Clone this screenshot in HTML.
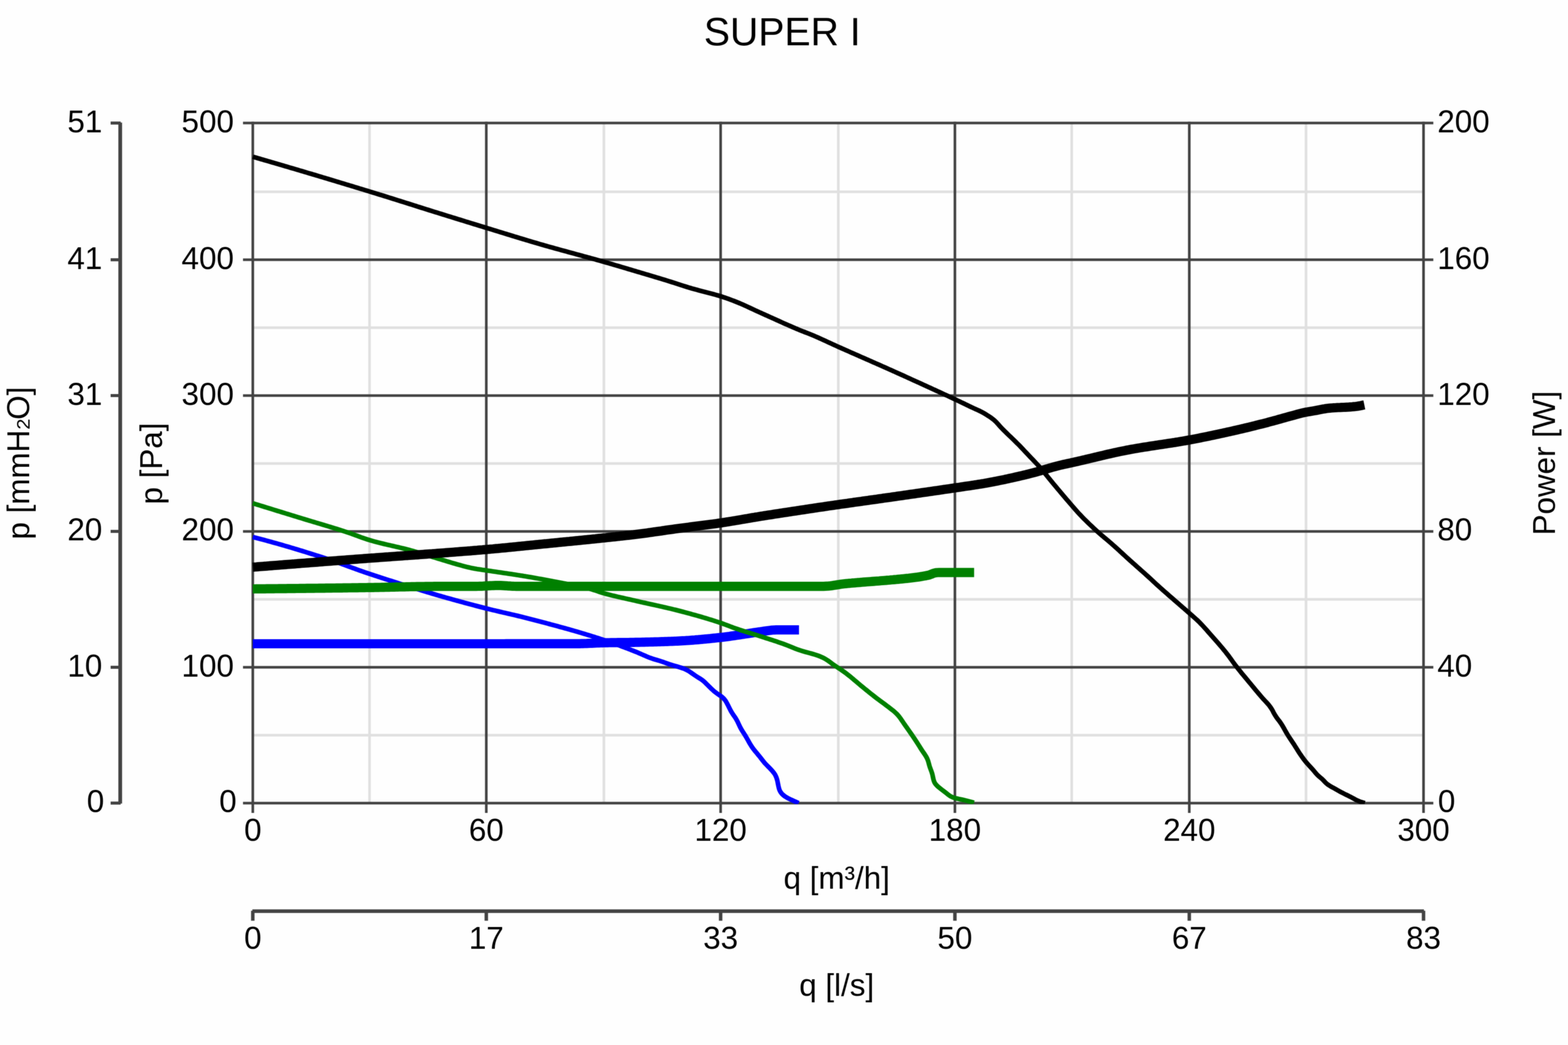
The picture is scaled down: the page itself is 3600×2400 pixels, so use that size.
<!DOCTYPE html>
<html lang="en"><head><meta charset="utf-8"><title>SUPER I</title>
<style>
html,body{margin:0;padding:0;background:#fff;}
body{width:3600px;height:2400px;overflow:hidden;}
svg{display:block;}
text{font-family:"Liberation Sans",Arial,Helvetica,sans-serif;fill:#000;}
.t{font-size:72px;}
.ttl{font-size:90px;}
.mn{stroke:#e0e0e0;stroke-width:6;fill:none;}
.mj{stroke:#434343;stroke-width:6;fill:none;}
.ax{stroke:#434343;stroke-width:9;fill:none;}
.c{fill:none;stroke-linejoin:round;stroke-linecap:butt;}
.thin{stroke-width:10.6;}
.thick{stroke-width:21.2;}
</style></head><body>
<svg width="3600" height="2400" viewBox="0 0 3600 2400">
<defs><filter id="soft" x="0" y="0" width="3600" height="2400" filterUnits="userSpaceOnUse" color-interpolation-filters="sRGB"><feConvolveMatrix order="3" kernelMatrix="1 2 1 2 4 2 1 2 1" divisor="16" edgeMode="duplicate" preserveAlpha="false"/></filter></defs>
<g filter="url(#soft)">
<rect width="3600" height="2400" fill="#fefefe"/>
<g class="mn">
<line x1="848.4" y1="282.5" x2="848.4" y2="1844.4"/>
<line x1="1386.5" y1="282.5" x2="1386.5" y2="1844.4"/>
<line x1="1924.7" y1="282.5" x2="1924.7" y2="1844.4"/>
<line x1="2460.6" y1="282.5" x2="2460.6" y2="1844.4"/>
<line x1="2998.5" y1="282.5" x2="2998.5" y2="1844.4"/>
<line x1="580.4" y1="1688.4" x2="3268.3" y2="1688.4"/>
<line x1="580.4" y1="1376.6" x2="3268.3" y2="1376.6"/>
<line x1="580.4" y1="1064.4" x2="3268.3" y2="1064.4"/>
<line x1="580.4" y1="752.5" x2="3268.3" y2="752.5"/>
<line x1="580.4" y1="440.4" x2="3268.3" y2="440.4"/>
</g>
<g class="mj">
<line x1="580.4" y1="279.5" x2="580.4" y2="1866.9"/>
<line x1="1116.5" y1="279.5" x2="1116.5" y2="1866.9"/>
<line x1="1654.5" y1="279.5" x2="1654.5" y2="1866.9"/>
<line x1="2192.4" y1="279.5" x2="2192.4" y2="1866.9"/>
<line x1="2730.5" y1="279.5" x2="2730.5" y2="1866.9"/>
<line x1="3268.3" y1="279.5" x2="3268.3" y2="1866.9"/>
<line x1="557.9" y1="1844.4" x2="3290.8" y2="1844.4"/>
<line x1="557.9" y1="1532.5" x2="3290.8" y2="1532.5"/>
<line x1="557.9" y1="1220.4" x2="3290.8" y2="1220.4"/>
<line x1="557.9" y1="908.5" x2="3290.8" y2="908.5"/>
<line x1="557.9" y1="596.6" x2="3290.8" y2="596.6"/>
<line x1="557.9" y1="282.6" x2="3290.8" y2="282.6"/>
</g>
<g class="ax">
<line x1="276.0" y1="281.6" x2="276.0" y2="1845.4" stroke-width="8.6"/>
<line x1="254.0" y1="1844.4" x2="277.0" y2="1844.4" stroke-width="7"/>
<line x1="254.0" y1="1532.5" x2="277.0" y2="1532.5" stroke-width="7"/>
<line x1="254.0" y1="1220.4" x2="277.0" y2="1220.4" stroke-width="7"/>
<line x1="254.0" y1="908.5" x2="277.0" y2="908.5" stroke-width="7"/>
<line x1="254.0" y1="596.6" x2="277.0" y2="596.6" stroke-width="7"/>
<line x1="254.0" y1="282.6" x2="277.0" y2="282.6" stroke-width="7"/>
<line x1="579.4" y1="2092.6" x2="3269.3" y2="2092.6" stroke-width="8.4"/>
<line x1="580.4" y1="2091.6" x2="580.4" y2="2114.6" stroke-width="8"/>
<line x1="1116.5" y1="2091.6" x2="1116.5" y2="2114.6" stroke-width="8"/>
<line x1="1654.5" y1="2091.6" x2="1654.5" y2="2114.6" stroke-width="8"/>
<line x1="2192.4" y1="2091.6" x2="2192.4" y2="2114.6" stroke-width="8"/>
<line x1="2730.5" y1="2091.6" x2="2730.5" y2="2114.6" stroke-width="8"/>
<line x1="3268.3" y1="2091.6" x2="3268.3" y2="2114.6" stroke-width="8"/>
</g>
<clipPath id="cp"><rect x="574.4" y="282.5" width="2693.9" height="1564.0"/></clipPath>
<g clip-path="url(#cp)">
<path class="c thin" stroke="#0000ff" d="M580.4,1233.3 L584.3,1234.3 L588.2,1235.3 L592.0,1236.3 L595.9,1237.3 L599.8,1238.4 L603.7,1239.4 L607.5,1240.4 L611.4,1241.5 L615.3,1242.6 L619.1,1243.6 L623.0,1244.7 L626.9,1245.8 L630.7,1246.8 L634.6,1247.9 L638.4,1249.0 L642.3,1250.1 L646.1,1251.2 L650.0,1252.3 L653.8,1253.5 L657.7,1254.6 L661.5,1255.7 L665.4,1256.8 L669.2,1258.0 L673.1,1259.1 L676.9,1260.3 L680.7,1261.4 L684.6,1262.6 L688.4,1263.8 L692.3,1264.9 L696.1,1266.1 L699.9,1267.3 L703.7,1268.5 L707.6,1269.7 L711.4,1270.9 L715.2,1272.1 L719.1,1273.3 L722.9,1274.5 L726.7,1275.7 L730.5,1276.9 L734.3,1278.1 L738.2,1279.3 L742.0,1280.6 L745.8,1281.8 L749.6,1283.0 L753.4,1284.3 L757.2,1285.6 L761.0,1286.9 L764.8,1288.2 L768.6,1289.5 L772.3,1290.8 L776.1,1292.2 L779.9,1293.5 L783.7,1294.9 L787.4,1296.3 L791.2,1297.6 L795.0,1299.0 L798.7,1300.4 L802.5,1301.7 L806.3,1303.1 L810.0,1304.5 L813.8,1305.8 L817.6,1307.2 L821.4,1308.6 L825.1,1309.9 L828.9,1311.2 L832.7,1312.6 L836.5,1313.9 L840.3,1315.2 L844.1,1316.5 L847.9,1317.8 L851.7,1319.0 L855.5,1320.3 L859.3,1321.6 L863.1,1322.8 L866.9,1324.1 L870.7,1325.3 L874.5,1326.6 L878.3,1327.8 L882.1,1329.0 L885.9,1330.3 L889.8,1331.5 L893.6,1332.7 L897.4,1333.9 L901.2,1335.1 L905.0,1336.3 L908.9,1337.6 L912.7,1338.8 L916.5,1340.0 L920.3,1341.2 L924.2,1342.4 L928.0,1343.6 L931.8,1344.7 L935.6,1345.9 L939.5,1347.1 L943.3,1348.3 L947.1,1349.5 L951.0,1350.7 L954.8,1351.9 L958.6,1353.1 L962.4,1354.2 L966.3,1355.4 L970.1,1356.6 L973.9,1357.8 L977.8,1358.9 L981.6,1360.1 L985.5,1361.3 L989.3,1362.4 L993.1,1363.6 L997.0,1364.7 L1000.8,1365.8 L1004.7,1367.0 L1008.5,1368.1 L1012.4,1369.2 L1016.2,1370.3 L1020.1,1371.4 L1023.9,1372.5 L1027.8,1373.6 L1031.7,1374.7 L1035.5,1375.7 L1039.4,1376.8 L1043.2,1377.9 L1047.1,1379.0 L1051.0,1380.0 L1054.8,1381.1 L1058.7,1382.2 L1062.6,1383.2 L1066.4,1384.3 L1070.3,1385.3 L1074.2,1386.3 L1078.0,1387.4 L1081.9,1388.4 L1085.8,1389.4 L1089.7,1390.5 L1093.6,1391.5 L1097.4,1392.5 L1101.3,1393.5 L1105.2,1394.5 L1109.1,1395.5 L1113.0,1396.5 L1116.8,1397.5 L1120.7,1398.4 L1124.6,1399.4 L1128.5,1400.3 L1132.4,1401.3 L1136.3,1402.2 L1140.2,1403.1 L1144.1,1404.0 L1148.0,1405.0 L1151.9,1405.9 L1155.8,1406.8 L1159.7,1407.7 L1163.7,1408.6 L1167.6,1409.5 L1171.5,1410.4 L1175.4,1411.3 L1179.3,1412.2 L1183.2,1413.1 L1187.1,1414.0 L1191.0,1415.0 L1194.9,1415.9 L1198.8,1416.9 L1202.6,1417.8 L1206.5,1418.8 L1210.4,1419.8 L1214.3,1420.8 L1218.2,1421.8 L1222.1,1422.8 L1226.0,1423.8 L1229.8,1424.8 L1233.7,1425.8 L1237.6,1426.8 L1241.5,1427.8 L1245.3,1428.9 L1249.2,1429.9 L1253.1,1430.9 L1257.0,1432.0 L1260.8,1433.0 L1264.7,1434.1 L1268.6,1435.1 L1272.4,1436.1 L1276.3,1437.2 L1280.2,1438.2 L1284.0,1439.3 L1287.9,1440.4 L1291.8,1441.4 L1295.6,1442.5 L1299.5,1443.5 L1303.4,1444.6 L1307.2,1445.7 L1311.1,1446.8 L1314.9,1447.9 L1318.8,1449.0 L1322.6,1450.1 L1326.5,1451.2 L1330.3,1452.4 L1334.2,1453.5 L1338.0,1454.7 L1341.9,1455.8 L1345.7,1457.0 L1349.5,1458.2 L1353.4,1459.3 L1357.2,1460.5 L1361.0,1461.7 L1364.8,1462.9 L1368.7,1464.2 L1372.5,1465.4 L1376.3,1466.6 L1380.1,1467.9 L1383.9,1469.1 L1387.7,1470.4 L1391.5,1471.7 L1395.3,1473.0 L1399.1,1474.3 L1402.9,1475.6 L1406.6,1477.0 L1410.4,1478.3 L1414.2,1479.7 L1418.0,1481.0 L1421.7,1482.4 L1425.5,1483.8 L1429.2,1485.2 L1433.0,1486.6 L1436.7,1488.0 L1440.5,1489.4 L1444.2,1490.9 L1448.0,1492.3 L1451.7,1493.8 L1455.4,1495.2 L1459.2,1496.7 L1462.9,1498.2 L1466.6,1499.8 L1470.3,1501.4 L1473.9,1503.0 L1477.6,1504.6 L1481.3,1506.2 L1485.0,1507.8 L1488.7,1509.3 L1492.4,1510.8 L1496.1,1512.1 L1499.9,1513.4 L1503.8,1514.6 L1507.6,1515.7 L1511.5,1516.8 L1515.3,1518.0 L1519.1,1519.2 L1522.9,1520.5 L1526.7,1521.9 L1530.4,1523.3 L1534.2,1524.6 L1538.0,1525.9 L1541.8,1527.1 L1545.7,1528.3 L1549.5,1529.4 L1553.4,1530.4 L1557.2,1531.5 L1561.1,1532.7 L1564.9,1533.9 L1568.7,1535.2 L1572.4,1536.7 L1576.0,1538.4 L1579.5,1540.3 L1582.9,1542.3 L1586.3,1544.6 L1589.5,1546.9 L1592.8,1549.2 L1596.1,1551.5 L1599.4,1553.7 L1602.8,1555.9 L1606.2,1557.9 L1609.6,1560.0 L1612.9,1562.4 L1616.0,1564.9 L1618.9,1567.6 L1621.7,1570.4 L1624.6,1573.2 L1627.4,1576.1 L1630.3,1578.9 L1633.1,1581.7 L1636.1,1584.4 L1639.0,1587.1 L1642.1,1589.6 L1645.3,1592.0 L1648.6,1594.3 L1651.9,1596.6 L1655.2,1598.8 L1658.4,1601.3 L1661.3,1604.0 L1663.9,1607.0 L1666.2,1610.2 L1668.2,1613.6 L1670.1,1617.2 L1671.9,1620.7 L1673.7,1624.3 L1675.5,1627.9 L1677.3,1631.5 L1679.3,1635.0 L1681.4,1638.4 L1683.6,1641.7 L1685.9,1645.0 L1688.2,1648.3 L1690.3,1651.7 L1692.2,1655.2 L1694.0,1658.7 L1695.7,1662.4 L1697.4,1666.0 L1699.1,1669.6 L1701.0,1673.1 L1703.0,1676.6 L1705.1,1680.0 L1707.3,1683.4 L1709.4,1686.8 L1711.6,1690.2 L1713.6,1693.6 L1715.6,1697.1 L1717.6,1700.6 L1719.5,1704.1 L1721.5,1707.6 L1723.6,1711.0 L1725.7,1714.4 L1728.0,1717.7 L1730.4,1720.9 L1732.8,1724.0 L1735.4,1727.1 L1738.0,1730.2 L1740.5,1733.3 L1743.1,1736.4 L1745.6,1739.5 L1748.0,1742.7 L1750.5,1745.8 L1753.0,1749.0 L1755.5,1752.1 L1758.2,1755.0 L1761.0,1757.9 L1763.8,1760.8 L1766.6,1763.6 L1769.4,1766.5 L1772.1,1769.4 L1774.7,1772.5 L1777.2,1775.6 L1779.4,1778.9 L1781.2,1782.5 L1782.7,1786.1 L1783.9,1789.9 L1784.9,1793.8 L1785.7,1797.7 L1786.5,1801.7 L1787.3,1805.6 L1788.2,1809.5 L1789.3,1813.3 L1790.9,1816.9 L1792.9,1820.2 L1795.4,1823.3 L1798.3,1826.0 L1801.4,1828.5 L1804.7,1830.7 L1808.2,1832.7 L1811.8,1834.5 L1815.4,1836.2 L1819.0,1837.9 L1822.6,1839.6 L1826.3,1841.2 L1830.0,1842.8 L1833.7,1844.3 L1833.7,1844.3"/>
<path class="c thick" stroke="#0000ff" d="M580.4,1478.5 L584.4,1478.5 L588.4,1478.5 L592.4,1478.5 L596.4,1478.5 L600.5,1478.5 L604.5,1478.5 L608.5,1478.5 L612.5,1478.5 L616.5,1478.5 L620.5,1478.5 L624.5,1478.5 L628.5,1478.5 L632.6,1478.5 L636.6,1478.5 L640.6,1478.5 L644.6,1478.5 L648.6,1478.5 L652.6,1478.5 L656.6,1478.5 L660.6,1478.5 L664.6,1478.5 L668.7,1478.5 L672.7,1478.5 L676.7,1478.5 L680.7,1478.5 L684.7,1478.5 L688.7,1478.5 L692.7,1478.5 L696.7,1478.5 L700.8,1478.5 L704.8,1478.5 L708.8,1478.5 L712.8,1478.5 L716.8,1478.5 L720.8,1478.5 L724.8,1478.5 L728.8,1478.5 L732.8,1478.5 L736.9,1478.5 L740.9,1478.5 L744.9,1478.5 L748.9,1478.5 L752.9,1478.5 L756.9,1478.5 L760.9,1478.5 L764.9,1478.5 L769.0,1478.5 L773.0,1478.5 L777.0,1478.5 L781.0,1478.5 L785.0,1478.5 L789.0,1478.5 L793.0,1478.5 L797.0,1478.5 L801.0,1478.5 L805.1,1478.5 L809.1,1478.5 L813.1,1478.5 L817.1,1478.5 L821.1,1478.5 L825.1,1478.5 L829.1,1478.5 L833.1,1478.5 L837.2,1478.5 L841.2,1478.5 L845.2,1478.5 L849.2,1478.5 L853.2,1478.5 L857.2,1478.5 L861.2,1478.5 L865.2,1478.5 L869.3,1478.5 L873.3,1478.5 L877.3,1478.5 L881.3,1478.5 L885.3,1478.5 L889.3,1478.5 L893.3,1478.5 L897.3,1478.5 L901.3,1478.5 L905.4,1478.5 L909.4,1478.5 L913.4,1478.5 L917.4,1478.5 L921.4,1478.5 L925.4,1478.5 L929.4,1478.5 L933.4,1478.5 L937.5,1478.5 L941.5,1478.5 L945.5,1478.5 L949.5,1478.5 L953.5,1478.5 L957.5,1478.5 L961.5,1478.5 L965.5,1478.5 L969.5,1478.5 L973.6,1478.5 L977.6,1478.5 L981.6,1478.5 L985.6,1478.5 L989.6,1478.5 L993.6,1478.5 L997.6,1478.5 L1001.6,1478.5 L1005.7,1478.5 L1009.7,1478.5 L1013.7,1478.5 L1017.7,1478.5 L1021.7,1478.5 L1025.7,1478.5 L1029.7,1478.5 L1033.7,1478.5 L1037.7,1478.5 L1041.8,1478.5 L1045.8,1478.5 L1049.8,1478.5 L1053.8,1478.5 L1057.8,1478.5 L1061.8,1478.5 L1065.8,1478.5 L1069.8,1478.5 L1073.9,1478.5 L1077.9,1478.5 L1081.9,1478.5 L1085.9,1478.5 L1089.9,1478.5 L1093.9,1478.5 L1097.9,1478.5 L1101.9,1478.5 L1105.9,1478.5 L1110.0,1478.5 L1114.0,1478.5 L1118.0,1478.5 L1122.0,1478.5 L1126.0,1478.5 L1130.0,1478.5 L1134.0,1478.5 L1138.0,1478.5 L1142.1,1478.5 L1146.1,1478.5 L1150.1,1478.5 L1154.1,1478.5 L1158.1,1478.5 L1162.1,1478.4 L1166.1,1478.4 L1170.1,1478.4 L1174.1,1478.4 L1178.2,1478.4 L1182.2,1478.4 L1186.2,1478.4 L1190.2,1478.4 L1194.2,1478.4 L1198.2,1478.4 L1202.2,1478.4 L1206.2,1478.4 L1210.3,1478.4 L1214.3,1478.4 L1218.3,1478.4 L1222.3,1478.4 L1226.3,1478.4 L1230.3,1478.4 L1234.3,1478.4 L1238.3,1478.4 L1242.3,1478.4 L1246.4,1478.4 L1250.4,1478.4 L1254.4,1478.4 L1258.4,1478.4 L1262.4,1478.4 L1266.4,1478.4 L1270.4,1478.4 L1274.4,1478.4 L1278.5,1478.4 L1282.5,1478.4 L1286.5,1478.4 L1290.5,1478.4 L1294.5,1478.4 L1298.5,1478.4 L1302.5,1478.4 L1306.5,1478.4 L1310.6,1478.4 L1314.6,1478.4 L1318.6,1478.4 L1322.6,1478.4 L1326.6,1478.4 L1330.6,1478.3 L1334.6,1478.2 L1338.6,1478.1 L1342.6,1478.0 L1346.6,1477.9 L1350.7,1477.7 L1354.7,1477.5 L1358.7,1477.3 L1362.7,1477.1 L1366.7,1476.9 L1370.7,1476.7 L1374.7,1476.6 L1378.7,1476.4 L1382.7,1476.3 L1386.7,1476.2 L1390.7,1476.1 L1394.8,1476.1 L1398.8,1476.0 L1402.8,1475.9 L1406.8,1475.9 L1410.8,1475.8 L1414.8,1475.8 L1418.8,1475.7 L1422.8,1475.7 L1426.8,1475.6 L1430.9,1475.6 L1434.9,1475.6 L1438.9,1475.5 L1442.9,1475.5 L1446.9,1475.4 L1450.9,1475.3 L1454.9,1475.3 L1458.9,1475.2 L1462.9,1475.1 L1467.0,1475.1 L1471.0,1475.0 L1475.0,1474.9 L1479.0,1474.8 L1483.0,1474.7 L1487.0,1474.6 L1491.0,1474.5 L1495.0,1474.4 L1499.0,1474.3 L1503.1,1474.2 L1507.1,1474.1 L1511.1,1474.0 L1515.1,1473.8 L1519.1,1473.7 L1523.1,1473.6 L1527.1,1473.4 L1531.1,1473.3 L1535.1,1473.1 L1539.1,1473.0 L1543.1,1472.8 L1547.2,1472.7 L1551.2,1472.5 L1555.2,1472.3 L1559.2,1472.1 L1563.2,1471.9 L1567.2,1471.7 L1571.2,1471.5 L1575.2,1471.2 L1579.2,1471.0 L1583.2,1470.7 L1587.2,1470.4 L1591.2,1470.1 L1595.2,1469.8 L1599.2,1469.4 L1603.2,1469.1 L1607.2,1468.7 L1611.2,1468.4 L1615.2,1468.0 L1619.2,1467.6 L1623.2,1467.2 L1627.2,1466.9 L1631.2,1466.5 L1635.2,1466.0 L1639.1,1465.6 L1643.1,1465.2 L1647.1,1464.8 L1651.1,1464.4 L1655.1,1463.9 L1659.1,1463.5 L1663.1,1463.0 L1667.0,1462.5 L1671.0,1461.9 L1675.0,1461.4 L1679.0,1460.8 L1682.9,1460.3 L1686.9,1459.7 L1690.9,1459.1 L1694.8,1458.5 L1698.8,1457.9 L1702.8,1457.3 L1706.7,1456.7 L1710.7,1456.1 L1714.7,1455.5 L1718.6,1454.9 L1722.6,1454.3 L1726.6,1453.7 L1730.5,1453.1 L1734.5,1452.5 L1738.5,1451.9 L1742.4,1451.3 L1746.4,1450.8 L1750.4,1450.2 L1754.4,1449.6 L1758.3,1449.0 L1762.3,1448.4 L1766.3,1447.9 L1770.2,1447.4 L1774.2,1447.0 L1778.2,1446.8 L1782.2,1446.7 L1786.3,1446.6 L1790.3,1446.6 L1794.3,1446.6 L1798.3,1446.6 L1802.3,1446.6 L1806.3,1446.6 L1810.3,1446.6 L1814.3,1446.6 L1818.4,1446.6 L1822.4,1446.6 L1826.4,1446.6 L1830.4,1446.6 L1834.4,1446.6 L1834.4,1446.6"/>
<path class="c thin" stroke="#008000" d="M580.4,1155.8 L584.2,1157.0 L588.1,1158.2 L591.9,1159.4 L595.7,1160.5 L599.5,1161.7 L603.4,1162.9 L607.2,1164.1 L611.0,1165.3 L614.9,1166.5 L618.7,1167.6 L622.5,1168.8 L626.3,1170.0 L630.2,1171.2 L634.0,1172.4 L637.8,1173.6 L641.7,1174.7 L645.5,1175.9 L649.3,1177.1 L653.2,1178.3 L657.0,1179.5 L660.8,1180.6 L664.6,1181.8 L668.5,1183.0 L672.3,1184.2 L676.1,1185.3 L680.0,1186.5 L683.8,1187.7 L687.6,1188.9 L691.5,1190.0 L695.3,1191.2 L699.1,1192.4 L703.0,1193.6 L706.8,1194.7 L710.6,1195.9 L714.5,1197.0 L718.3,1198.2 L722.2,1199.3 L726.0,1200.5 L729.8,1201.6 L733.7,1202.8 L737.5,1203.9 L741.4,1205.1 L745.2,1206.2 L749.0,1207.4 L752.9,1208.5 L756.7,1209.7 L760.5,1210.8 L764.4,1212.0 L768.2,1213.2 L772.0,1214.4 L775.9,1215.6 L779.7,1216.8 L783.5,1218.0 L787.3,1219.2 L791.1,1220.5 L794.9,1221.7 L798.7,1223.0 L802.5,1224.3 L806.3,1225.6 L810.1,1227.0 L813.8,1228.4 L817.6,1229.8 L821.4,1231.1 L825.1,1232.5 L828.9,1233.9 L832.7,1235.2 L836.4,1236.5 L840.2,1237.8 L844.1,1239.1 L847.9,1240.2 L851.7,1241.4 L855.6,1242.5 L859.4,1243.6 L863.3,1244.6 L867.2,1245.6 L871.1,1246.6 L875.0,1247.6 L878.8,1248.5 L882.7,1249.5 L886.6,1250.4 L890.5,1251.3 L894.5,1252.2 L898.4,1253.1 L902.3,1254.0 L906.2,1254.9 L910.1,1255.8 L914.0,1256.7 L917.9,1257.7 L921.8,1258.6 L925.7,1259.5 L929.6,1260.5 L933.4,1261.5 L937.3,1262.5 L941.2,1263.5 L945.0,1264.6 L948.9,1265.7 L952.8,1266.8 L956.6,1267.9 L960.5,1269.0 L964.3,1270.2 L968.1,1271.3 L972.0,1272.5 L975.8,1273.7 L979.6,1274.9 L983.5,1276.0 L987.3,1277.2 L991.1,1278.4 L994.9,1279.6 L998.8,1280.8 L1002.6,1281.9 L1006.4,1283.1 L1010.3,1284.3 L1014.1,1285.5 L1017.9,1286.6 L1021.8,1287.8 L1025.6,1289.0 L1029.4,1290.1 L1033.3,1291.3 L1037.1,1292.5 L1041.0,1293.6 L1044.8,1294.7 L1048.7,1295.8 L1052.5,1296.9 L1056.4,1297.9 L1060.2,1299.0 L1064.1,1300.1 L1068.0,1301.1 L1071.9,1302.1 L1075.8,1303.0 L1079.7,1303.9 L1083.6,1304.8 L1087.5,1305.5 L1091.5,1306.2 L1095.4,1306.9 L1099.4,1307.5 L1103.3,1308.1 L1107.3,1308.7 L1111.3,1309.2 L1115.2,1309.8 L1119.2,1310.4 L1123.2,1311.0 L1127.1,1311.6 L1131.1,1312.2 L1135.1,1312.8 L1139.0,1313.3 L1143.0,1313.9 L1147.0,1314.5 L1150.9,1315.1 L1154.9,1315.7 L1158.8,1316.3 L1162.8,1316.8 L1166.8,1317.4 L1170.7,1318.0 L1174.7,1318.6 L1178.7,1319.2 L1182.6,1319.8 L1186.6,1320.4 L1190.5,1321.1 L1194.5,1321.7 L1198.5,1322.3 L1202.4,1323.0 L1206.4,1323.6 L1210.3,1324.3 L1214.3,1325.0 L1218.2,1325.6 L1222.2,1326.3 L1226.1,1327.0 L1230.1,1327.7 L1234.0,1328.4 L1238.0,1329.1 L1241.9,1329.8 L1245.9,1330.5 L1249.8,1331.2 L1253.7,1331.9 L1257.7,1332.7 L1261.6,1333.4 L1265.6,1334.1 L1269.5,1334.9 L1273.4,1335.6 L1277.4,1336.4 L1281.3,1337.1 L1285.3,1337.9 L1289.2,1338.6 L1293.1,1339.4 L1297.1,1340.1 L1301.0,1340.9 L1304.9,1341.7 L1308.9,1342.5 L1312.8,1343.2 L1316.7,1344.0 L1320.7,1344.8 L1324.6,1345.5 L1328.5,1346.3 L1332.4,1347.1 L1336.4,1348.0 L1340.3,1348.8 L1344.2,1349.7 L1348.1,1350.7 L1352.0,1351.7 L1355.8,1352.7 L1359.7,1353.9 L1363.5,1355.1 L1367.3,1356.3 L1371.1,1357.6 L1374.9,1358.9 L1378.7,1360.2 L1382.5,1361.4 L1386.3,1362.5 L1390.2,1363.6 L1394.1,1364.6 L1398.0,1365.6 L1401.8,1366.6 L1405.7,1367.6 L1409.6,1368.5 L1413.5,1369.4 L1417.4,1370.4 L1421.3,1371.3 L1425.2,1372.1 L1429.1,1373.0 L1433.1,1373.9 L1437.0,1374.8 L1440.9,1375.7 L1444.8,1376.5 L1448.7,1377.4 L1452.6,1378.3 L1456.5,1379.2 L1460.4,1380.1 L1464.3,1381.0 L1468.2,1381.9 L1472.1,1382.8 L1476.0,1383.7 L1480.0,1384.5 L1483.9,1385.4 L1487.8,1386.3 L1491.7,1387.1 L1495.6,1388.0 L1499.5,1388.8 L1503.4,1389.7 L1507.4,1390.6 L1511.3,1391.4 L1515.2,1392.3 L1519.1,1393.2 L1523.0,1394.1 L1526.9,1395.0 L1530.8,1395.9 L1534.7,1396.8 L1538.6,1397.7 L1542.5,1398.6 L1546.4,1399.6 L1550.3,1400.5 L1554.2,1401.5 L1558.1,1402.5 L1561.9,1403.5 L1565.8,1404.5 L1569.7,1405.5 L1573.6,1406.6 L1577.4,1407.6 L1581.3,1408.7 L1585.2,1409.7 L1589.0,1410.8 L1592.9,1411.8 L1596.8,1412.9 L1600.6,1414.0 L1604.5,1415.1 L1608.3,1416.2 L1612.2,1417.4 L1616.0,1418.5 L1619.9,1419.6 L1623.7,1420.8 L1627.5,1422.0 L1631.4,1423.1 L1635.2,1424.3 L1639.0,1425.5 L1642.8,1426.8 L1646.6,1428.0 L1650.4,1429.2 L1654.2,1430.5 L1658.0,1431.8 L1661.8,1433.2 L1665.6,1434.6 L1669.3,1436.0 L1673.1,1437.4 L1676.8,1438.9 L1680.5,1440.3 L1684.3,1441.7 L1688.1,1443.0 L1691.9,1444.3 L1695.7,1445.6 L1699.5,1446.9 L1703.3,1448.1 L1707.1,1449.3 L1710.9,1450.5 L1714.7,1451.7 L1718.6,1452.9 L1722.4,1454.0 L1726.2,1455.2 L1730.1,1456.4 L1733.9,1457.6 L1737.7,1458.8 L1741.6,1460.0 L1745.4,1461.2 L1749.2,1462.4 L1753.0,1463.6 L1756.8,1464.9 L1760.6,1466.1 L1764.4,1467.3 L1768.3,1468.6 L1772.1,1469.8 L1775.9,1471.1 L1779.7,1472.3 L1783.5,1473.6 L1787.3,1474.9 L1791.1,1476.2 L1794.9,1477.5 L1798.6,1478.8 L1802.4,1480.2 L1806.1,1481.6 L1809.9,1483.1 L1813.6,1484.6 L1817.3,1486.1 L1821.0,1487.7 L1824.7,1489.2 L1828.4,1490.6 L1832.2,1492.0 L1836.0,1493.3 L1839.8,1494.5 L1843.6,1495.7 L1847.5,1496.8 L1851.3,1497.9 L1855.2,1498.9 L1859.1,1500.0 L1862.9,1501.0 L1866.8,1502.1 L1870.6,1503.3 L1874.4,1504.5 L1878.2,1505.8 L1882.0,1507.2 L1885.7,1508.8 L1889.3,1510.4 L1892.9,1512.3 L1896.3,1514.3 L1899.7,1516.4 L1903.0,1518.7 L1906.2,1521.1 L1909.4,1523.5 L1912.6,1525.9 L1915.9,1528.2 L1919.2,1530.4 L1922.6,1532.6 L1925.9,1534.8 L1929.3,1537.0 L1932.6,1539.3 L1935.9,1541.6 L1939.1,1543.9 L1942.4,1546.3 L1945.5,1548.7 L1948.7,1551.2 L1951.8,1553.7 L1954.9,1556.3 L1958.0,1558.8 L1961.0,1561.4 L1964.1,1564.0 L1967.1,1566.6 L1970.2,1569.2 L1973.3,1571.8 L1976.3,1574.4 L1979.4,1576.9 L1982.5,1579.4 L1985.6,1582.0 L1988.7,1584.5 L1991.9,1587.0 L1995.0,1589.6 L1998.1,1592.1 L2001.2,1594.6 L2004.4,1597.0 L2007.5,1599.5 L2010.7,1602.0 L2013.9,1604.4 L2017.1,1606.8 L2020.3,1609.2 L2023.5,1611.6 L2026.8,1613.9 L2030.0,1616.3 L2033.2,1618.8 L2036.4,1621.2 L2039.6,1623.6 L2042.7,1626.0 L2045.9,1628.5 L2049.1,1630.9 L2052.2,1633.4 L2055.2,1636.1 L2058.1,1638.8 L2060.9,1641.7 L2063.5,1644.7 L2065.9,1647.9 L2068.3,1651.2 L2070.5,1654.5 L2072.8,1657.8 L2075.0,1661.1 L2077.3,1664.4 L2079.6,1667.7 L2081.9,1670.9 L2084.2,1674.2 L2086.5,1677.5 L2088.8,1680.8 L2091.1,1684.1 L2093.4,1687.4 L2095.7,1690.7 L2097.9,1694.0 L2100.1,1697.3 L2102.3,1700.7 L2104.5,1704.0 L2106.7,1707.4 L2108.8,1710.8 L2111.0,1714.2 L2113.1,1717.6 L2115.3,1721.0 L2117.4,1724.3 L2119.7,1727.6 L2122.0,1730.9 L2124.2,1734.2 L2126.3,1737.6 L2128.2,1741.1 L2129.8,1744.8 L2131.1,1748.5 L2132.2,1752.4 L2133.2,1756.3 L2134.3,1760.1 L2135.6,1763.9 L2137.0,1767.6 L2138.4,1771.4 L2139.7,1775.2 L2140.8,1779.0 L2141.6,1782.9 L2142.4,1786.8 L2143.3,1790.7 L2144.5,1794.5 L2146.1,1798.0 L2148.3,1801.2 L2151.0,1804.1 L2153.9,1806.9 L2157.0,1809.4 L2160.1,1811.9 L2163.3,1814.4 L2166.5,1816.8 L2169.7,1819.2 L2172.8,1821.7 L2175.9,1824.2 L2179.1,1826.6 L2182.4,1828.8 L2186.0,1830.6 L2189.7,1832.0 L2193.5,1833.1 L2197.4,1834.0 L2201.3,1834.9 L2205.2,1835.7 L2209.1,1836.5 L2213.0,1837.4 L2216.9,1838.4 L2220.8,1839.4 L2224.7,1840.4 L2228.6,1841.4 L2232.4,1842.4 L2236.3,1843.5 L2236.3,1843.5"/>
<path class="c thick" stroke="#008000" d="M580.4,1352.5 L584.4,1352.5 L588.4,1352.4 L592.4,1352.4 L596.4,1352.4 L600.4,1352.3 L604.4,1352.3 L608.5,1352.3 L612.5,1352.2 L616.5,1352.2 L620.5,1352.1 L624.5,1352.1 L628.5,1352.1 L632.5,1352.0 L636.5,1352.0 L640.5,1351.9 L644.5,1351.9 L648.5,1351.9 L652.5,1351.8 L656.5,1351.8 L660.6,1351.7 L664.6,1351.7 L668.6,1351.7 L672.6,1351.6 L676.6,1351.6 L680.6,1351.5 L684.6,1351.5 L688.6,1351.4 L692.6,1351.4 L696.6,1351.3 L700.6,1351.3 L704.6,1351.2 L708.6,1351.2 L712.6,1351.2 L716.7,1351.1 L720.7,1351.1 L724.7,1351.0 L728.7,1351.0 L732.7,1350.9 L736.7,1350.9 L740.7,1350.8 L744.7,1350.8 L748.7,1350.7 L752.7,1350.7 L756.7,1350.6 L760.7,1350.6 L764.7,1350.5 L768.8,1350.5 L772.8,1350.4 L776.8,1350.4 L780.8,1350.3 L784.8,1350.3 L788.8,1350.2 L792.8,1350.2 L796.8,1350.1 L800.8,1350.0 L804.8,1350.0 L808.8,1349.9 L812.8,1349.9 L816.8,1349.8 L820.8,1349.8 L824.9,1349.7 L828.9,1349.7 L832.9,1349.6 L836.9,1349.6 L840.9,1349.5 L844.9,1349.4 L848.9,1349.4 L852.9,1349.3 L856.9,1349.3 L860.9,1349.2 L864.9,1349.1 L868.9,1349.1 L872.9,1349.0 L876.9,1348.9 L881.0,1348.8 L885.0,1348.7 L889.0,1348.7 L893.0,1348.6 L897.0,1348.5 L901.0,1348.4 L905.0,1348.3 L909.0,1348.2 L913.0,1348.1 L917.0,1348.0 L921.0,1348.0 L925.0,1347.9 L929.0,1347.8 L933.0,1347.7 L937.1,1347.6 L941.1,1347.5 L945.1,1347.4 L949.1,1347.4 L953.1,1347.3 L957.1,1347.2 L961.1,1347.2 L965.1,1347.1 L969.1,1347.0 L973.1,1347.0 L977.1,1346.9 L981.1,1346.9 L985.1,1346.8 L989.1,1346.8 L993.2,1346.8 L997.2,1346.7 L1001.2,1346.7 L1005.2,1346.7 L1009.2,1346.7 L1013.2,1346.7 L1017.2,1346.7 L1021.2,1346.7 L1025.2,1346.7 L1029.2,1346.7 L1033.2,1346.7 L1037.2,1346.7 L1041.2,1346.7 L1045.3,1346.7 L1049.3,1346.7 L1053.3,1346.7 L1057.3,1346.7 L1061.3,1346.7 L1065.3,1346.7 L1069.3,1346.7 L1073.3,1346.7 L1077.3,1346.7 L1081.3,1346.7 L1085.3,1346.7 L1089.3,1346.7 L1093.3,1346.6 L1097.4,1346.5 L1101.4,1346.4 L1105.4,1346.3 L1109.4,1346.1 L1113.4,1345.8 L1117.4,1345.6 L1121.4,1345.4 L1125.4,1345.2 L1129.4,1345.0 L1133.4,1344.8 L1137.4,1344.7 L1141.4,1344.7 L1145.4,1344.7 L1149.4,1344.7 L1153.4,1344.9 L1157.4,1345.1 L1161.4,1345.3 L1165.4,1345.6 L1169.4,1345.8 L1173.4,1346.1 L1177.4,1346.3 L1181.4,1346.5 L1185.4,1346.6 L1189.4,1346.7 L1193.4,1346.7 L1197.4,1346.7 L1201.4,1346.7 L1205.5,1346.7 L1209.5,1346.7 L1213.5,1346.7 L1217.5,1346.7 L1221.5,1346.7 L1225.5,1346.7 L1229.5,1346.7 L1233.5,1346.7 L1237.5,1346.7 L1241.5,1346.7 L1245.5,1346.7 L1249.5,1346.7 L1253.5,1346.7 L1257.6,1346.7 L1261.6,1346.7 L1265.6,1346.7 L1269.6,1346.7 L1273.6,1346.7 L1277.6,1346.7 L1281.6,1346.7 L1285.6,1346.7 L1289.6,1346.7 L1293.6,1346.7 L1297.6,1346.7 L1301.6,1346.7 L1305.6,1346.7 L1309.7,1346.7 L1313.7,1346.7 L1317.7,1346.7 L1321.7,1346.7 L1325.7,1346.6 L1329.7,1346.6 L1333.7,1346.6 L1337.7,1346.6 L1341.7,1346.6 L1345.7,1346.6 L1349.7,1346.6 L1353.7,1346.6 L1357.7,1346.6 L1361.8,1346.6 L1365.8,1346.6 L1369.8,1346.6 L1373.8,1346.6 L1377.8,1346.6 L1381.8,1346.6 L1385.8,1346.6 L1389.8,1346.6 L1393.8,1346.6 L1397.8,1346.6 L1401.8,1346.6 L1405.8,1346.6 L1409.8,1346.6 L1413.9,1346.6 L1417.9,1346.6 L1421.9,1346.6 L1425.9,1346.6 L1429.9,1346.6 L1433.9,1346.6 L1437.9,1346.6 L1441.9,1346.6 L1445.9,1346.6 L1449.9,1346.6 L1453.9,1346.6 L1457.9,1346.6 L1462.0,1346.6 L1466.0,1346.6 L1470.0,1346.6 L1474.0,1346.6 L1478.0,1346.6 L1482.0,1346.6 L1486.0,1346.6 L1490.0,1346.6 L1494.0,1346.6 L1498.0,1346.6 L1502.0,1346.6 L1506.0,1346.6 L1510.0,1346.6 L1514.1,1346.6 L1518.1,1346.6 L1522.1,1346.6 L1526.1,1346.6 L1530.1,1346.6 L1534.1,1346.6 L1538.1,1346.6 L1542.1,1346.6 L1546.1,1346.6 L1550.1,1346.6 L1554.1,1346.6 L1558.1,1346.6 L1562.1,1346.6 L1566.2,1346.6 L1570.2,1346.6 L1574.2,1346.6 L1578.2,1346.6 L1582.2,1346.6 L1586.2,1346.6 L1590.2,1346.6 L1594.2,1346.6 L1598.2,1346.6 L1602.2,1346.6 L1606.2,1346.6 L1610.2,1346.6 L1614.2,1346.6 L1618.3,1346.6 L1622.3,1346.6 L1626.3,1346.6 L1630.3,1346.6 L1634.3,1346.6 L1638.3,1346.6 L1642.3,1346.6 L1646.3,1346.6 L1650.3,1346.6 L1654.3,1346.6 L1658.3,1346.6 L1662.3,1346.6 L1666.3,1346.6 L1670.4,1346.6 L1674.4,1346.6 L1678.4,1346.6 L1682.4,1346.6 L1686.4,1346.6 L1690.4,1346.6 L1694.4,1346.6 L1698.4,1346.6 L1702.4,1346.6 L1706.4,1346.6 L1710.4,1346.6 L1714.4,1346.6 L1718.4,1346.6 L1722.5,1346.6 L1726.5,1346.6 L1730.5,1346.6 L1734.5,1346.6 L1738.5,1346.6 L1742.5,1346.6 L1746.5,1346.6 L1750.5,1346.6 L1754.5,1346.6 L1758.5,1346.6 L1762.5,1346.6 L1766.5,1346.6 L1770.5,1346.6 L1774.6,1346.6 L1778.6,1346.6 L1782.6,1346.6 L1786.6,1346.6 L1790.6,1346.6 L1794.6,1346.6 L1798.6,1346.6 L1802.6,1346.6 L1806.6,1346.6 L1810.6,1346.6 L1814.6,1346.6 L1818.6,1346.6 L1822.6,1346.6 L1826.7,1346.6 L1830.7,1346.6 L1834.7,1346.6 L1838.7,1346.6 L1842.7,1346.6 L1846.7,1346.6 L1850.7,1346.6 L1854.7,1346.6 L1858.7,1346.6 L1862.7,1346.6 L1866.7,1346.6 L1870.7,1346.6 L1874.7,1346.6 L1878.8,1346.6 L1882.8,1346.6 L1886.8,1346.6 L1890.8,1346.6 L1894.8,1346.4 L1898.8,1346.2 L1902.8,1345.9 L1906.7,1345.5 L1910.7,1344.9 L1914.7,1344.3 L1918.6,1343.7 L1922.6,1343.0 L1926.5,1342.4 L1930.5,1341.8 L1934.5,1341.3 L1938.5,1340.8 L1942.4,1340.4 L1946.4,1340.0 L1950.4,1339.6 L1954.4,1339.3 L1958.4,1338.9 L1962.4,1338.6 L1966.4,1338.2 L1970.4,1337.9 L1974.4,1337.6 L1978.4,1337.2 L1982.4,1336.9 L1986.4,1336.6 L1990.4,1336.3 L1994.4,1336.0 L1998.4,1335.7 L2002.4,1335.4 L2006.3,1335.1 L2010.3,1334.8 L2014.3,1334.5 L2018.3,1334.2 L2022.3,1333.8 L2026.3,1333.5 L2030.3,1333.2 L2034.3,1332.9 L2038.3,1332.5 L2042.3,1332.2 L2046.3,1331.8 L2050.3,1331.5 L2054.3,1331.1 L2058.3,1330.8 L2062.3,1330.4 L2066.3,1330.0 L2070.2,1329.6 L2074.2,1329.2 L2078.2,1328.8 L2082.2,1328.4 L2086.2,1328.0 L2090.2,1327.5 L2094.1,1327.0 L2098.1,1326.5 L2102.1,1326.0 L2106.1,1325.5 L2110.0,1324.9 L2114.0,1324.3 L2117.9,1323.6 L2121.9,1322.9 L2125.8,1322.2 L2129.7,1321.4 L2133.6,1320.4 L2137.3,1319.1 L2141.0,1317.6 L2144.7,1316.3 L2148.5,1315.4 L2152.4,1315.0 L2156.4,1314.8 L2160.4,1314.8 L2164.4,1314.8 L2168.4,1314.8 L2172.4,1314.8 L2176.4,1314.8 L2180.4,1314.8 L2184.4,1314.8 L2188.4,1314.8 L2192.4,1314.8 L2196.4,1314.8 L2200.4,1314.8 L2204.4,1314.8 L2208.4,1314.8 L2212.5,1314.8 L2216.5,1314.8 L2220.5,1314.8 L2224.5,1314.8 L2228.5,1314.8 L2232.5,1314.8 L2236.5,1314.8 L2236.5,1314.8"/>
<path class="c thin" stroke="#000" d="M580.4,360.0 L584.2,361.1 L588.1,362.2 L591.9,363.3 L595.8,364.4 L599.6,365.6 L603.5,366.7 L607.3,367.8 L611.2,368.9 L615.0,370.0 L618.9,371.1 L622.7,372.3 L626.5,373.4 L630.4,374.5 L634.2,375.6 L638.1,376.8 L641.9,377.9 L645.8,379.0 L649.6,380.1 L653.4,381.3 L657.3,382.4 L661.1,383.5 L665.0,384.7 L668.8,385.8 L672.6,386.9 L676.5,388.0 L680.3,389.2 L684.2,390.3 L688.0,391.5 L691.8,392.6 L695.7,393.7 L699.5,394.9 L703.3,396.0 L707.2,397.2 L711.0,398.3 L714.9,399.4 L718.7,400.6 L722.5,401.7 L726.4,402.9 L730.2,404.0 L734.0,405.2 L737.9,406.3 L741.7,407.5 L745.5,408.6 L749.4,409.8 L753.2,410.9 L757.0,412.1 L760.9,413.2 L764.7,414.4 L768.5,415.5 L772.4,416.7 L776.2,417.9 L780.0,419.0 L783.9,420.2 L787.7,421.3 L791.5,422.5 L795.4,423.7 L799.2,424.8 L803.0,426.0 L806.9,427.1 L810.7,428.3 L814.5,429.5 L818.3,430.6 L822.2,431.8 L826.0,433.0 L829.8,434.1 L833.7,435.3 L837.5,436.5 L841.3,437.6 L845.2,438.8 L849.0,440.0 L852.8,441.2 L856.6,442.3 L860.5,443.5 L864.3,444.7 L868.1,445.9 L871.9,447.1 L875.8,448.2 L879.6,449.4 L883.4,450.6 L887.2,451.8 L891.0,453.0 L894.9,454.2 L898.7,455.4 L902.5,456.6 L906.3,457.8 L910.1,459.0 L914.0,460.2 L917.8,461.4 L921.6,462.6 L925.4,463.8 L929.2,465.0 L933.1,466.2 L936.9,467.4 L940.7,468.6 L944.5,469.8 L948.3,471.0 L952.1,472.2 L956.0,473.4 L959.8,474.7 L963.6,475.9 L967.4,477.1 L971.2,478.3 L975.1,479.5 L978.9,480.7 L982.7,481.9 L986.5,483.1 L990.3,484.3 L994.1,485.5 L998.0,486.7 L1001.8,487.8 L1005.6,489.0 L1009.4,490.2 L1013.3,491.4 L1017.1,492.6 L1020.9,493.8 L1024.7,495.0 L1028.6,496.2 L1032.4,497.3 L1036.2,498.5 L1040.0,499.7 L1043.9,500.9 L1047.7,502.1 L1051.5,503.3 L1055.3,504.4 L1059.1,505.6 L1063.0,506.8 L1066.8,508.0 L1070.6,509.2 L1074.5,510.4 L1078.3,511.5 L1082.1,512.7 L1085.9,513.9 L1089.8,515.1 L1093.6,516.2 L1097.4,517.4 L1101.2,518.6 L1105.1,519.8 L1108.9,520.9 L1112.7,522.1 L1116.5,523.3 L1120.4,524.5 L1124.2,525.6 L1128.0,526.8 L1131.9,528.0 L1135.7,529.2 L1139.5,530.3 L1143.3,531.5 L1147.2,532.7 L1151.0,533.9 L1154.8,535.0 L1158.6,536.2 L1162.5,537.4 L1166.3,538.6 L1170.1,539.7 L1173.9,540.9 L1177.8,542.1 L1181.6,543.3 L1185.4,544.4 L1189.3,545.6 L1193.1,546.8 L1196.9,547.9 L1200.8,549.1 L1204.6,550.2 L1208.4,551.4 L1212.3,552.5 L1216.1,553.7 L1219.9,554.8 L1223.8,556.0 L1227.6,557.1 L1231.5,558.2 L1235.3,559.3 L1239.1,560.5 L1243.0,561.6 L1246.8,562.7 L1250.7,563.8 L1254.5,564.9 L1258.4,566.0 L1262.2,567.1 L1266.1,568.1 L1269.9,569.2 L1273.8,570.3 L1277.7,571.4 L1281.5,572.4 L1285.4,573.5 L1289.2,574.6 L1293.1,575.6 L1297.0,576.7 L1300.8,577.7 L1304.7,578.8 L1308.5,579.8 L1312.4,580.9 L1316.3,581.9 L1320.1,583.0 L1324.0,584.1 L1327.9,585.1 L1331.7,586.2 L1335.6,587.2 L1339.4,588.3 L1343.3,589.3 L1347.2,590.4 L1351.0,591.5 L1354.9,592.5 L1358.7,593.6 L1362.6,594.7 L1366.5,595.7 L1370.3,596.8 L1374.2,597.9 L1378.0,599.0 L1381.9,600.1 L1385.7,601.2 L1389.6,602.3 L1393.4,603.4 L1397.3,604.5 L1401.1,605.6 L1404.9,606.7 L1408.8,607.9 L1412.6,609.0 L1416.5,610.1 L1420.3,611.2 L1424.2,612.4 L1428.0,613.5 L1431.8,614.6 L1435.7,615.8 L1439.5,616.9 L1443.3,618.1 L1447.2,619.2 L1451.0,620.3 L1454.9,621.5 L1458.7,622.6 L1462.5,623.8 L1466.4,624.9 L1470.2,626.0 L1474.0,627.2 L1477.9,628.3 L1481.7,629.5 L1485.6,630.6 L1489.4,631.7 L1493.2,632.9 L1497.1,634.0 L1500.9,635.2 L1504.7,636.3 L1508.6,637.5 L1512.4,638.6 L1516.2,639.8 L1520.1,641.0 L1523.9,642.1 L1527.7,643.3 L1531.6,644.5 L1535.4,645.7 L1539.2,646.9 L1543.0,648.1 L1546.8,649.3 L1550.6,650.5 L1554.4,651.8 L1558.2,653.0 L1562.0,654.3 L1565.9,655.5 L1569.7,656.7 L1573.5,657.9 L1577.3,659.1 L1581.1,660.3 L1585.0,661.4 L1588.8,662.6 L1592.7,663.6 L1596.5,664.7 L1600.4,665.7 L1604.3,666.8 L1608.1,667.8 L1612.0,668.8 L1615.9,669.8 L1619.8,670.8 L1623.6,671.8 L1627.5,672.8 L1631.4,673.8 L1635.3,674.8 L1639.1,675.9 L1643.0,677.0 L1646.8,678.1 L1650.7,679.2 L1654.5,680.4 L1658.3,681.6 L1662.1,682.9 L1665.9,684.1 L1669.7,685.5 L1673.4,686.8 L1677.2,688.2 L1680.9,689.6 L1684.7,691.0 L1688.4,692.5 L1692.1,694.0 L1695.8,695.5 L1699.5,697.0 L1703.2,698.6 L1706.9,700.2 L1710.5,701.9 L1714.2,703.5 L1717.8,705.2 L1721.4,706.9 L1725.1,708.6 L1728.7,710.3 L1732.3,712.0 L1735.9,713.7 L1739.6,715.3 L1743.2,717.0 L1746.9,718.6 L1750.5,720.3 L1754.2,721.9 L1757.8,723.6 L1761.5,725.2 L1765.1,726.8 L1768.8,728.5 L1772.4,730.1 L1776.1,731.8 L1779.7,733.4 L1783.4,735.1 L1787.0,736.7 L1790.7,738.4 L1794.3,740.0 L1798.0,741.7 L1801.6,743.3 L1805.3,744.9 L1809.0,746.5 L1812.6,748.1 L1816.3,749.7 L1820.0,751.3 L1823.6,752.9 L1827.3,754.5 L1831.0,756.0 L1834.7,757.6 L1838.4,759.1 L1842.1,760.6 L1845.9,762.0 L1849.6,763.5 L1853.3,764.9 L1857.1,766.4 L1860.8,767.9 L1864.5,769.4 L1868.2,770.9 L1871.8,772.5 L1875.5,774.1 L1879.2,775.7 L1882.8,777.4 L1886.5,779.0 L1890.1,780.7 L1893.8,782.3 L1897.4,784.0 L1901.0,785.7 L1904.7,787.4 L1908.3,789.0 L1911.9,790.7 L1915.6,792.4 L1919.2,794.0 L1922.9,795.7 L1926.5,797.3 L1930.2,798.9 L1933.8,800.6 L1937.5,802.2 L1941.2,803.8 L1944.8,805.4 L1948.5,807.0 L1952.2,808.7 L1955.8,810.3 L1959.5,811.9 L1963.1,813.5 L1966.8,815.1 L1970.5,816.7 L1974.1,818.4 L1977.8,820.0 L1981.5,821.6 L1985.1,823.2 L1988.8,824.8 L1992.5,826.4 L1996.1,828.0 L1999.8,829.6 L2003.4,831.3 L2007.1,832.9 L2010.8,834.5 L2014.4,836.1 L2018.1,837.7 L2021.8,839.3 L2025.4,841.0 L2029.1,842.6 L2032.7,844.2 L2036.4,845.8 L2040.0,847.5 L2043.7,849.1 L2047.4,850.7 L2051.0,852.4 L2054.7,854.0 L2058.3,855.7 L2062.0,857.3 L2065.6,858.9 L2069.3,860.6 L2072.9,862.2 L2076.6,863.9 L2080.2,865.5 L2083.9,867.2 L2087.5,868.8 L2091.1,870.5 L2094.8,872.2 L2098.4,873.8 L2102.1,875.5 L2105.7,877.1 L2109.4,878.8 L2113.0,880.4 L2116.7,882.1 L2120.3,883.8 L2123.9,885.4 L2127.6,887.1 L2131.2,888.8 L2134.9,890.4 L2138.5,892.1 L2142.1,893.8 L2145.8,895.4 L2149.4,897.1 L2153.1,898.8 L2156.7,900.4 L2160.3,902.1 L2164.0,903.8 L2167.6,905.5 L2171.2,907.1 L2174.9,908.8 L2178.5,910.5 L2182.1,912.2 L2185.8,913.9 L2189.4,915.6 L2193.0,917.3 L2196.6,919.0 L2200.3,920.7 L2203.9,922.4 L2207.5,924.2 L2211.1,925.9 L2214.7,927.6 L2218.3,929.4 L2221.9,931.1 L2225.5,932.9 L2229.1,934.6 L2232.7,936.3 L2236.4,938.0 L2240.0,939.6 L2243.7,941.3 L2247.3,942.9 L2250.9,944.6 L2254.5,946.5 L2258.0,948.4 L2261.4,950.4 L2264.8,952.5 L2268.2,954.7 L2271.6,956.8 L2274.9,959.0 L2278.1,961.4 L2281.3,963.9 L2284.2,966.5 L2287.1,969.3 L2289.8,972.3 L2292.5,975.2 L2295.1,978.2 L2297.8,981.2 L2300.6,984.1 L2303.4,987.0 L2306.2,989.8 L2309.0,992.6 L2311.9,995.4 L2314.8,998.2 L2317.7,1001.0 L2320.6,1003.7 L2323.5,1006.5 L2326.4,1009.3 L2329.2,1012.1 L2332.1,1014.9 L2334.9,1017.7 L2337.8,1020.5 L2340.6,1023.3 L2343.4,1026.2 L2346.1,1029.1 L2348.9,1032.0 L2351.6,1035.0 L2354.3,1037.9 L2357.1,1040.8 L2359.8,1043.7 L2362.6,1046.7 L2365.3,1049.5 L2368.1,1052.4 L2370.9,1055.3 L2373.6,1058.2 L2376.4,1061.1 L2379.1,1064.0 L2381.9,1067.0 L2384.5,1069.9 L2387.2,1072.9 L2389.8,1076.0 L2392.4,1079.0 L2395.0,1082.1 L2397.5,1085.2 L2400.1,1088.3 L2402.6,1091.4 L2405.1,1094.5 L2407.6,1097.6 L2410.1,1100.7 L2412.7,1103.8 L2415.2,1106.9 L2417.7,1110.0 L2420.3,1113.1 L2422.9,1116.2 L2425.4,1119.2 L2428.0,1122.3 L2430.6,1125.4 L2433.2,1128.4 L2435.7,1131.5 L2438.3,1134.5 L2440.9,1137.6 L2443.5,1140.7 L2446.1,1143.7 L2448.7,1146.8 L2451.3,1149.8 L2453.9,1152.8 L2456.5,1155.9 L2459.1,1158.9 L2461.7,1161.9 L2464.4,1165.0 L2467.0,1168.0 L2469.6,1171.0 L2472.3,1174.0 L2474.9,1177.0 L2477.6,1179.9 L2480.4,1182.8 L2483.1,1185.7 L2485.9,1188.6 L2488.7,1191.5 L2491.6,1194.3 L2494.4,1197.1 L2497.3,1199.9 L2500.2,1202.7 L2503.1,1205.5 L2506.0,1208.2 L2508.9,1210.9 L2511.8,1213.7 L2514.8,1216.4 L2517.7,1219.1 L2520.7,1221.8 L2523.7,1224.4 L2526.7,1227.1 L2529.7,1229.7 L2532.8,1232.3 L2535.8,1234.9 L2538.9,1237.4 L2542.0,1240.0 L2545.0,1242.6 L2548.1,1245.2 L2551.1,1247.8 L2554.1,1250.4 L2557.1,1253.1 L2560.1,1255.8 L2563.1,1258.4 L2566.0,1261.1 L2569.0,1263.8 L2571.9,1266.6 L2574.9,1269.3 L2577.8,1272.0 L2580.7,1274.7 L2583.7,1277.4 L2586.6,1280.1 L2589.6,1282.8 L2592.6,1285.5 L2595.6,1288.2 L2598.6,1290.8 L2601.5,1293.5 L2604.5,1296.1 L2607.5,1298.8 L2610.5,1301.4 L2613.5,1304.1 L2616.5,1306.8 L2619.5,1309.4 L2622.5,1312.1 L2625.5,1314.7 L2628.5,1317.4 L2631.4,1320.1 L2634.4,1322.8 L2637.4,1325.5 L2640.3,1328.2 L2643.3,1330.9 L2646.2,1333.6 L2649.1,1336.4 L2652.1,1339.1 L2655.0,1341.8 L2658.0,1344.5 L2660.9,1347.2 L2663.9,1349.9 L2666.9,1352.5 L2669.9,1355.2 L2672.9,1357.9 L2675.9,1360.5 L2678.9,1363.1 L2681.9,1365.8 L2684.9,1368.4 L2687.9,1371.0 L2691.0,1373.6 L2694.0,1376.3 L2697.0,1378.9 L2700.0,1381.5 L2703.1,1384.2 L2706.1,1386.8 L2709.1,1389.4 L2712.1,1392.0 L2715.1,1394.7 L2718.2,1397.3 L2721.2,1399.9 L2724.2,1402.5 L2727.2,1405.2 L2730.2,1407.8 L2733.2,1410.5 L2736.2,1413.1 L2739.2,1415.7 L2742.2,1418.4 L2745.2,1421.1 L2748.2,1423.8 L2751.1,1426.5 L2753.9,1429.3 L2756.7,1432.2 L2759.5,1435.1 L2762.2,1438.0 L2764.9,1441.0 L2767.6,1444.0 L2770.3,1446.9 L2772.9,1450.0 L2775.5,1453.0 L2778.2,1456.0 L2780.8,1459.0 L2783.5,1462.0 L2786.1,1465.0 L2788.8,1468.0 L2791.4,1471.0 L2794.1,1474.0 L2796.7,1477.0 L2799.3,1480.0 L2801.9,1483.1 L2804.5,1486.1 L2807.1,1489.2 L2809.6,1492.3 L2812.2,1495.4 L2814.7,1498.5 L2817.1,1501.7 L2819.6,1504.8 L2822.0,1508.0 L2824.3,1511.3 L2826.7,1514.5 L2829.0,1517.8 L2831.3,1521.0 L2833.7,1524.2 L2836.1,1527.5 L2838.5,1530.6 L2841.0,1533.8 L2843.5,1536.9 L2846.0,1540.1 L2848.5,1543.2 L2851.0,1546.3 L2853.6,1549.4 L2856.1,1552.4 L2858.7,1555.5 L2861.3,1558.6 L2863.8,1561.7 L2866.4,1564.8 L2868.9,1567.8 L2871.5,1570.9 L2874.0,1574.0 L2876.6,1577.1 L2879.1,1580.2 L2881.7,1583.3 L2884.2,1586.3 L2886.8,1589.4 L2889.4,1592.5 L2892.0,1595.5 L2894.6,1598.6 L2897.2,1601.6 L2899.8,1604.6 L2902.5,1607.5 L2905.3,1610.5 L2908.0,1613.4 L2910.7,1616.4 L2913.3,1619.4 L2915.7,1622.6 L2918.0,1625.9 L2920.1,1629.2 L2922.1,1632.7 L2923.9,1636.3 L2925.9,1639.8 L2927.9,1643.2 L2930.1,1646.6 L2932.4,1649.8 L2934.8,1653.0 L2937.3,1656.1 L2939.6,1659.4 L2941.9,1662.7 L2944.0,1666.1 L2946.0,1669.5 L2948.0,1673.0 L2949.9,1676.5 L2951.9,1680.0 L2953.9,1683.5 L2955.9,1686.9 L2958.0,1690.3 L2960.2,1693.7 L2962.4,1697.0 L2964.6,1700.3 L2966.9,1703.7 L2969.1,1707.0 L2971.3,1710.3 L2973.4,1713.7 L2975.6,1717.1 L2977.7,1720.5 L2979.8,1723.9 L2981.9,1727.3 L2984.1,1730.6 L2986.4,1733.9 L2988.7,1737.2 L2991.0,1740.5 L2993.4,1743.7 L2995.8,1746.9 L2998.3,1750.0 L3000.9,1753.0 L3003.6,1756.0 L3006.3,1759.0 L3009.0,1761.9 L3011.7,1764.8 L3014.4,1767.8 L3017.0,1770.9 L3019.5,1774.0 L3022.1,1777.0 L3024.8,1779.9 L3027.7,1782.6 L3030.8,1785.2 L3033.8,1787.7 L3036.7,1790.4 L3039.5,1793.3 L3042.2,1796.2 L3045.1,1799.0 L3048.1,1801.5 L3051.4,1803.7 L3054.8,1805.8 L3058.3,1807.8 L3061.8,1809.7 L3065.3,1811.7 L3068.8,1813.7 L3072.3,1815.6 L3075.8,1817.6 L3079.3,1819.5 L3082.9,1821.3 L3086.4,1823.1 L3090.0,1824.9 L3093.6,1826.6 L3097.2,1828.4 L3100.8,1830.2 L3104.3,1832.1 L3107.8,1834.0 L3111.3,1835.9 L3114.9,1837.7 L3118.5,1839.4 L3122.2,1840.9 L3126.0,1842.2 L3129.8,1843.3 L3133.7,1844.3 L3133.7,1844.3"/>
<path class="c thick" stroke="#000" d="M580.4,1302.6 L584.4,1302.3 L588.4,1302.0 L592.4,1301.6 L596.4,1301.3 L600.4,1301.0 L604.4,1300.7 L608.4,1300.4 L612.3,1300.1 L616.3,1299.7 L620.3,1299.4 L624.3,1299.1 L628.3,1298.8 L632.3,1298.5 L636.3,1298.2 L640.3,1297.9 L644.3,1297.5 L648.3,1297.2 L652.3,1296.9 L656.3,1296.6 L660.3,1296.3 L664.3,1296.0 L668.2,1295.7 L672.2,1295.4 L676.2,1295.1 L680.2,1294.7 L684.2,1294.4 L688.2,1294.1 L692.2,1293.8 L696.2,1293.5 L700.2,1293.2 L704.2,1292.9 L708.2,1292.6 L712.2,1292.3 L716.2,1292.0 L720.2,1291.7 L724.2,1291.4 L728.2,1291.1 L732.1,1290.7 L736.1,1290.4 L740.1,1290.1 L744.1,1289.8 L748.1,1289.5 L752.1,1289.2 L756.1,1288.9 L760.1,1288.6 L764.1,1288.3 L768.1,1288.0 L772.1,1287.7 L776.1,1287.4 L780.1,1287.1 L784.1,1286.8 L788.1,1286.5 L792.1,1286.2 L796.1,1285.9 L800.0,1285.6 L804.0,1285.3 L808.0,1285.0 L812.0,1284.7 L816.0,1284.4 L820.0,1284.1 L824.0,1283.8 L828.0,1283.5 L832.0,1283.2 L836.0,1282.9 L840.0,1282.6 L844.0,1282.3 L848.0,1282.0 L852.0,1281.7 L856.0,1281.5 L860.0,1281.2 L864.0,1280.9 L868.0,1280.6 L872.0,1280.3 L875.9,1280.0 L879.9,1279.7 L883.9,1279.4 L887.9,1279.1 L891.9,1278.9 L895.9,1278.6 L899.9,1278.3 L903.9,1278.0 L907.9,1277.7 L911.9,1277.4 L915.9,1277.2 L919.9,1276.9 L923.9,1276.6 L927.9,1276.3 L931.9,1276.0 L935.9,1275.8 L939.9,1275.5 L943.9,1275.2 L947.9,1274.9 L951.9,1274.6 L955.9,1274.3 L959.9,1274.1 L963.9,1273.8 L967.8,1273.5 L971.8,1273.2 L975.8,1272.9 L979.8,1272.6 L983.8,1272.3 L987.8,1272.0 L991.8,1271.8 L995.8,1271.5 L999.8,1271.2 L1003.8,1270.9 L1007.8,1270.6 L1011.8,1270.3 L1015.8,1270.0 L1019.8,1269.7 L1023.8,1269.4 L1027.8,1269.1 L1031.8,1268.8 L1035.8,1268.5 L1039.7,1268.2 L1043.7,1267.9 L1047.7,1267.5 L1051.7,1267.2 L1055.7,1266.9 L1059.7,1266.6 L1063.7,1266.3 L1067.7,1266.0 L1071.7,1265.7 L1075.7,1265.4 L1079.7,1265.1 L1083.7,1264.7 L1087.7,1264.4 L1091.7,1264.1 L1095.7,1263.8 L1099.6,1263.4 L1103.6,1263.1 L1107.6,1262.8 L1111.6,1262.4 L1115.6,1262.1 L1119.6,1261.7 L1123.6,1261.4 L1127.6,1261.0 L1131.6,1260.7 L1135.6,1260.3 L1139.5,1259.9 L1143.5,1259.6 L1147.5,1259.2 L1151.5,1258.8 L1155.5,1258.4 L1159.5,1258.1 L1163.5,1257.7 L1167.5,1257.3 L1171.5,1256.9 L1175.4,1256.5 L1179.4,1256.1 L1183.4,1255.7 L1187.4,1255.3 L1191.4,1254.9 L1195.4,1254.5 L1199.4,1254.1 L1203.3,1253.7 L1207.3,1253.3 L1211.3,1252.9 L1215.3,1252.5 L1219.3,1252.1 L1223.3,1251.7 L1227.3,1251.3 L1231.2,1250.9 L1235.2,1250.5 L1239.2,1250.1 L1243.2,1249.7 L1247.2,1249.3 L1251.2,1248.9 L1255.2,1248.6 L1259.1,1248.2 L1263.1,1247.8 L1267.1,1247.4 L1271.1,1247.0 L1275.1,1246.6 L1279.1,1246.2 L1283.1,1245.8 L1287.0,1245.4 L1291.0,1245.0 L1295.0,1244.6 L1299.0,1244.2 L1303.0,1243.8 L1307.0,1243.5 L1311.0,1243.1 L1314.9,1242.7 L1318.9,1242.3 L1322.9,1241.9 L1326.9,1241.5 L1330.9,1241.1 L1334.9,1240.7 L1338.9,1240.3 L1342.8,1239.9 L1346.8,1239.5 L1350.8,1239.1 L1354.8,1238.7 L1358.8,1238.3 L1362.8,1237.9 L1366.8,1237.5 L1370.7,1237.0 L1374.7,1236.6 L1378.7,1236.2 L1382.7,1235.8 L1386.7,1235.4 L1390.7,1235.0 L1394.6,1234.5 L1398.6,1234.1 L1402.6,1233.7 L1406.6,1233.3 L1410.6,1232.9 L1414.6,1232.4 L1418.5,1232.0 L1422.5,1231.6 L1426.5,1231.1 L1430.5,1230.7 L1434.5,1230.3 L1438.5,1229.8 L1442.4,1229.4 L1446.4,1228.9 L1450.4,1228.4 L1454.4,1228.0 L1458.3,1227.5 L1462.3,1227.0 L1466.3,1226.5 L1470.3,1226.0 L1474.2,1225.5 L1478.2,1224.9 L1482.2,1224.4 L1486.1,1223.9 L1490.1,1223.3 L1494.1,1222.8 L1498.0,1222.2 L1502.0,1221.6 L1506.0,1221.1 L1509.9,1220.5 L1513.9,1219.9 L1517.9,1219.4 L1521.8,1218.8 L1525.8,1218.2 L1529.8,1217.6 L1533.7,1217.1 L1537.7,1216.5 L1541.7,1215.9 L1545.6,1215.4 L1549.6,1214.8 L1553.6,1214.3 L1557.5,1213.8 L1561.5,1213.2 L1565.5,1212.7 L1569.4,1212.2 L1573.4,1211.7 L1577.4,1211.2 L1581.4,1210.7 L1585.3,1210.1 L1589.3,1209.6 L1593.3,1209.1 L1597.3,1208.6 L1601.2,1208.1 L1605.2,1207.6 L1609.2,1207.1 L1613.2,1206.6 L1617.1,1206.1 L1621.1,1205.6 L1625.1,1205.1 L1629.0,1204.6 L1633.0,1204.0 L1637.0,1203.5 L1641.0,1202.9 L1644.9,1202.4 L1648.9,1201.8 L1652.8,1201.2 L1656.8,1200.7 L1660.8,1200.1 L1664.7,1199.5 L1668.7,1198.8 L1672.6,1198.2 L1676.6,1197.6 L1680.6,1196.9 L1684.5,1196.3 L1688.5,1195.6 L1692.4,1194.9 L1696.4,1194.3 L1700.3,1193.6 L1704.2,1192.9 L1708.2,1192.2 L1712.1,1191.5 L1716.1,1190.9 L1720.0,1190.2 L1724.0,1189.5 L1727.9,1188.8 L1731.9,1188.2 L1735.8,1187.5 L1739.8,1186.9 L1743.7,1186.2 L1747.7,1185.6 L1751.7,1185.0 L1755.6,1184.3 L1759.6,1183.7 L1763.5,1183.1 L1767.5,1182.5 L1771.4,1181.9 L1775.4,1181.2 L1779.4,1180.6 L1783.3,1180.0 L1787.3,1179.4 L1791.2,1178.8 L1795.2,1178.2 L1799.1,1177.6 L1803.1,1177.0 L1807.1,1176.4 L1811.0,1175.8 L1815.0,1175.2 L1818.9,1174.6 L1822.9,1174.0 L1826.9,1173.4 L1830.8,1172.8 L1834.8,1172.2 L1838.8,1171.6 L1842.7,1171.0 L1846.7,1170.4 L1850.6,1169.8 L1854.6,1169.2 L1858.6,1168.6 L1862.5,1168.0 L1866.5,1167.4 L1870.4,1166.8 L1874.4,1166.2 L1878.4,1165.6 L1882.3,1165.1 L1886.3,1164.5 L1890.3,1163.9 L1894.2,1163.3 L1898.2,1162.7 L1902.1,1162.1 L1906.1,1161.6 L1910.1,1161.0 L1914.0,1160.4 L1918.0,1159.8 L1922.0,1159.3 L1925.9,1158.7 L1929.9,1158.1 L1933.9,1157.6 L1937.8,1157.0 L1941.8,1156.4 L1945.8,1155.9 L1949.7,1155.3 L1953.7,1154.7 L1957.7,1154.2 L1961.6,1153.6 L1965.6,1153.1 L1969.6,1152.5 L1973.5,1151.9 L1977.5,1151.4 L1981.5,1150.8 L1985.4,1150.3 L1989.4,1149.7 L1993.4,1149.2 L1997.3,1148.6 L2001.3,1148.0 L2005.3,1147.5 L2009.2,1146.9 L2013.2,1146.4 L2017.1,1145.8 L2021.1,1145.2 L2025.1,1144.7 L2029.0,1144.1 L2033.0,1143.6 L2037.0,1143.0 L2040.9,1142.4 L2044.9,1141.9 L2048.9,1141.3 L2052.8,1140.7 L2056.8,1140.2 L2060.8,1139.6 L2064.7,1139.0 L2068.7,1138.5 L2072.7,1137.9 L2076.6,1137.3 L2080.6,1136.8 L2084.6,1136.2 L2088.5,1135.6 L2092.5,1135.0 L2096.5,1134.5 L2100.4,1133.9 L2104.4,1133.3 L2108.4,1132.8 L2112.3,1132.2 L2116.3,1131.6 L2120.2,1131.1 L2124.2,1130.5 L2128.2,1129.9 L2132.1,1129.3 L2136.1,1128.8 L2140.1,1128.2 L2144.0,1127.6 L2148.0,1127.0 L2152.0,1126.5 L2155.9,1125.9 L2159.9,1125.3 L2163.8,1124.7 L2167.8,1124.1 L2171.8,1123.6 L2175.7,1123.0 L2179.7,1122.4 L2183.7,1121.8 L2187.6,1121.2 L2191.6,1120.6 L2195.5,1120.0 L2199.5,1119.4 L2203.5,1118.9 L2207.4,1118.3 L2211.4,1117.7 L2215.4,1117.1 L2219.3,1116.6 L2223.3,1116.0 L2227.3,1115.4 L2231.2,1114.8 L2235.2,1114.2 L2239.1,1113.6 L2243.1,1113.0 L2247.0,1112.3 L2251.0,1111.7 L2255.0,1111.0 L2258.9,1110.4 L2262.8,1109.7 L2266.8,1109.0 L2270.7,1108.3 L2274.7,1107.5 L2278.6,1106.8 L2282.5,1106.0 L2286.5,1105.3 L2290.4,1104.5 L2294.3,1103.7 L2298.3,1102.9 L2302.2,1102.1 L2306.1,1101.3 L2310.0,1100.4 L2313.9,1099.6 L2317.8,1098.7 L2321.8,1097.9 L2325.7,1097.0 L2329.6,1096.1 L2333.5,1095.2 L2337.4,1094.3 L2341.3,1093.4 L2345.2,1092.5 L2349.1,1091.6 L2353.0,1090.7 L2356.9,1089.7 L2360.8,1088.8 L2364.6,1087.8 L2368.5,1086.8 L2372.4,1085.8 L2376.3,1084.7 L2380.1,1083.7 L2384.0,1082.6 L2387.8,1081.5 L2391.7,1080.3 L2395.5,1079.2 L2399.4,1078.1 L2403.2,1077.0 L2407.1,1075.9 L2410.9,1074.7 L2414.8,1073.6 L2418.6,1072.6 L2422.5,1071.5 L2426.3,1070.5 L2430.2,1069.5 L2434.1,1068.5 L2438.0,1067.6 L2441.9,1066.7 L2445.8,1065.8 L2449.7,1065.0 L2453.7,1064.1 L2457.6,1063.3 L2461.5,1062.4 L2465.4,1061.6 L2469.3,1060.7 L2473.2,1059.8 L2477.1,1058.9 L2481.0,1058.0 L2484.9,1057.1 L2488.8,1056.2 L2492.7,1055.2 L2496.6,1054.3 L2500.5,1053.4 L2504.4,1052.5 L2508.3,1051.5 L2512.2,1050.6 L2516.1,1049.7 L2520.0,1048.7 L2523.9,1047.8 L2527.8,1046.9 L2531.7,1046.0 L2535.6,1045.1 L2539.5,1044.1 L2543.4,1043.2 L2547.3,1042.3 L2551.2,1041.5 L2555.1,1040.6 L2559.0,1039.7 L2562.9,1038.9 L2566.8,1038.0 L2570.8,1037.2 L2574.7,1036.4 L2578.6,1035.6 L2582.5,1034.8 L2586.5,1034.0 L2590.4,1033.3 L2594.3,1032.5 L2598.3,1031.8 L2602.2,1031.1 L2606.2,1030.4 L2610.1,1029.7 L2614.1,1029.1 L2618.0,1028.4 L2622.0,1027.7 L2625.9,1027.1 L2629.9,1026.5 L2633.8,1025.9 L2637.8,1025.2 L2641.7,1024.6 L2645.7,1024.0 L2649.7,1023.4 L2653.6,1022.8 L2657.6,1022.2 L2661.5,1021.6 L2665.5,1021.0 L2669.5,1020.4 L2673.4,1019.8 L2677.4,1019.2 L2681.3,1018.6 L2685.3,1018.0 L2689.3,1017.4 L2693.2,1016.8 L2697.2,1016.2 L2701.1,1015.5 L2705.1,1014.9 L2709.0,1014.2 L2713.0,1013.6 L2716.9,1012.9 L2720.9,1012.2 L2724.8,1011.5 L2728.8,1010.8 L2732.7,1010.1 L2736.6,1009.4 L2740.6,1008.6 L2744.5,1007.9 L2748.5,1007.1 L2752.4,1006.3 L2756.3,1005.5 L2760.2,1004.7 L2764.2,1003.9 L2768.1,1003.1 L2772.0,1002.3 L2775.9,1001.5 L2779.8,1000.7 L2783.8,999.8 L2787.7,999.0 L2791.6,998.2 L2795.5,997.3 L2799.4,996.5 L2803.3,995.6 L2807.3,994.8 L2811.2,993.9 L2815.1,993.1 L2819.0,992.2 L2822.9,991.4 L2826.8,990.5 L2830.7,989.6 L2834.6,988.7 L2838.5,987.8 L2842.4,986.9 L2846.3,986.0 L2850.2,985.1 L2854.1,984.2 L2858.0,983.2 L2861.9,982.3 L2865.8,981.4 L2869.7,980.4 L2873.6,979.5 L2877.5,978.5 L2881.4,977.6 L2885.3,976.6 L2889.2,975.6 L2893.0,974.6 L2896.9,973.7 L2900.8,972.7 L2904.7,971.7 L2908.6,970.7 L2912.4,969.6 L2916.3,968.6 L2920.2,967.6 L2924.0,966.5 L2927.9,965.4 L2931.8,964.4 L2935.6,963.3 L2939.5,962.2 L2943.3,961.1 L2947.2,960.0 L2951.0,959.0 L2954.9,957.9 L2958.8,956.8 L2962.6,955.8 L2966.5,954.7 L2970.4,953.7 L2974.2,952.6 L2978.1,951.5 L2981.9,950.5 L2985.8,949.5 L2989.7,948.5 L2993.6,947.6 L2997.5,946.8 L3001.5,946.1 L3005.4,945.4 L3009.4,944.8 L3013.3,944.1 L3017.3,943.4 L3021.2,942.7 L3025.1,942.0 L3029.1,941.2 L3033.0,940.4 L3036.9,939.6 L3040.9,939.0 L3044.8,938.3 L3048.8,937.8 L3052.8,937.4 L3056.8,937.0 L3060.8,936.7 L3064.8,936.5 L3068.8,936.2 L3072.8,936.0 L3076.8,935.9 L3080.8,935.7 L3084.8,935.5 L3088.8,935.3 L3092.8,935.1 L3096.8,934.9 L3100.8,934.6 L3104.7,934.3 L3108.7,933.9 L3112.7,933.5 L3116.7,933.0 L3120.6,932.3 L3124.6,931.6 L3128.5,930.7 L3132.4,929.9 L3132.4,929.9"/>
</g>
<g class="t">
<text x="239.2" y="1865.4" text-anchor="end">0</text>
<text x="234.8" y="1553.5" text-anchor="end">10</text>
<text x="234.8" y="1241.4" text-anchor="end">20</text>
<text x="234.8" y="929.5" text-anchor="end">31</text>
<text x="234.8" y="617.6" text-anchor="end">41</text>
<text x="234.8" y="303.6" text-anchor="end">51</text>
<text x="543.4" y="1865.4" text-anchor="end">0</text>
<text x="537" y="1553.5" text-anchor="end">100</text>
<text x="537" y="1241.4" text-anchor="end">200</text>
<text x="537" y="929.5" text-anchor="end">300</text>
<text x="537" y="617.6" text-anchor="end">400</text>
<text x="537" y="303.6" text-anchor="end">500</text>
<text x="3301.3" y="1865.4">0</text>
<text x="3300" y="1553.5">40</text>
<text x="3300" y="1241.4">80</text>
<text x="3300" y="929.5">120</text>
<text x="3300" y="617.6">160</text>
<text x="3300" y="303.6">200</text>
<text x="580.4" y="1930.5" text-anchor="middle">0</text>
<text x="1116.5" y="1930.5" text-anchor="middle">60</text>
<text x="1654.5" y="1930.5" text-anchor="middle">120</text>
<text x="2192.4" y="1930.5" text-anchor="middle">180</text>
<text x="2730.5" y="1930.5" text-anchor="middle">240</text>
<text x="3268.3" y="1930.5" text-anchor="middle">300</text>
<text x="580.4" y="2178.5" text-anchor="middle">0</text>
<text x="1116.5" y="2178.5" text-anchor="middle">17</text>
<text x="1654.5" y="2178.5" text-anchor="middle">33</text>
<text x="2192.4" y="2178.5" text-anchor="middle">50</text>
<text x="2730.5" y="2178.5" text-anchor="middle">67</text>
<text x="3268.3" y="2178.5" text-anchor="middle">83</text>
<text x="1921" y="2040.5" text-anchor="middle">q [m³/h]</text>
<text x="1921" y="2286.5" text-anchor="middle">q [l/s]</text>
<text transform="translate(67,1063.5) rotate(-90)" text-anchor="middle">p [mmH<tspan dy="-5" dx="-1">₂</tspan><tspan dy="5" dx="-4">O]</tspan></text>
<text transform="translate(371.5,1064.5) rotate(-90)" text-anchor="middle">p [Pa]</text>
<text transform="translate(3570,1063.5) rotate(-90)" text-anchor="middle">Power [W]</text>
</g>
<text class="ttl" x="1796" y="103.5" text-anchor="middle">SUPER I</text>
</g>
</svg></body></html>
